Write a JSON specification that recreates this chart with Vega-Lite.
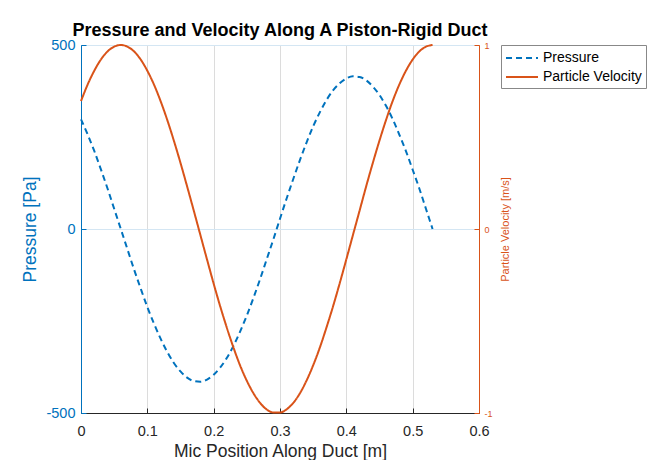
{
  "$schema": "https://vega.github.io/schema/vega-lite/v6.json",
  "width": 398,
  "height": 368,
  "autosize": "none",
  "padding": {"left": 81, "top": 45, "right": 172, "bottom": 47},
  "background": "white",
  "title": {
    "text": "Pressure and Velocity Along A Piston-Rigid Duct",
    "font": "Liberation Sans",
    "fontSize": 18,
    "fontWeight": "bold",
    "color": "#000000",
    "anchor": "middle",
    "frame": "group",
    "offset": -3
  },
  "config": {
    "view": {"stroke": "#262626", "strokeWidth": 1},
    "font": "Liberation Sans"
  },
  "data": {
    "values": [
      {"x": 0.00, "pressure": 298, "velocity": 0.695},
      {"x": 0.01, "pressure": 257, "velocity": 0.785},
      {"x": 0.02, "pressure": 212, "velocity": 0.860},
      {"x": 0.03, "pressure": 162, "velocity": 0.921},
      {"x": 0.04, "pressure": 110, "velocity": 0.965},
      {"x": 0.05, "pressure": 55, "velocity": 0.991},
      {"x": 0.06, "pressure": 0, "velocity": 1.000},
      {"x": 0.07, "pressure": -55, "velocity": 0.991},
      {"x": 0.08, "pressure": -110, "velocity": 0.965},
      {"x": 0.09, "pressure": -162, "velocity": 0.921},
      {"x": 0.10, "pressure": -212, "velocity": 0.860},
      {"x": 0.11, "pressure": -257, "velocity": 0.785},
      {"x": 0.12, "pressure": -298, "velocity": 0.695},
      {"x": 0.13, "pressure": -334, "velocity": 0.593},
      {"x": 0.14, "pressure": -364, "velocity": 0.480},
      {"x": 0.15, "pressure": -387, "velocity": 0.359},
      {"x": 0.16, "pressure": -404, "velocity": 0.231},
      {"x": 0.17, "pressure": -413, "velocity": 0.100},
      {"x": 0.18, "pressure": -415, "velocity": -0.033},
      {"x": 0.19, "pressure": -409, "velocity": -0.166},
      {"x": 0.20, "pressure": -396, "velocity": -0.297},
      {"x": 0.21, "pressure": -376, "velocity": -0.422},
      {"x": 0.22, "pressure": -350, "velocity": -0.538},
      {"x": 0.23, "pressure": -317, "velocity": -0.646},
      {"x": 0.24, "pressure": -278, "velocity": -0.743},
      {"x": 0.25, "pressure": -235, "velocity": -0.825},
      {"x": 0.26, "pressure": -187, "velocity": -0.893},
      {"x": 0.27, "pressure": -136, "velocity": -0.945},
      {"x": 0.28, "pressure": -82, "velocity": -0.981},
      {"x": 0.29, "pressure": -28, "velocity": -0.997},
      {"x": 0.30, "pressure": 28, "velocity": -0.997},
      {"x": 0.31, "pressure": 83, "velocity": -0.980},
      {"x": 0.32, "pressure": 136, "velocity": -0.945},
      {"x": 0.33, "pressure": 187, "velocity": -0.893},
      {"x": 0.34, "pressure": 235, "velocity": -0.824},
      {"x": 0.35, "pressure": 279, "velocity": -0.741},
      {"x": 0.36, "pressure": 317, "velocity": -0.645},
      {"x": 0.37, "pressure": 350, "velocity": -0.536},
      {"x": 0.38, "pressure": 377, "velocity": -0.420},
      {"x": 0.39, "pressure": 396, "velocity": -0.295},
      {"x": 0.40, "pressure": 409, "velocity": -0.165},
      {"x": 0.41, "pressure": 415, "velocity": -0.032},
      {"x": 0.42, "pressure": 413, "velocity": 0.100},
      {"x": 0.43, "pressure": 404, "velocity": 0.233},
      {"x": 0.44, "pressure": 387, "velocity": 0.360},
      {"x": 0.45, "pressure": 364, "velocity": 0.481},
      {"x": 0.46, "pressure": 334, "velocity": 0.594},
      {"x": 0.47, "pressure": 298, "velocity": 0.697},
      {"x": 0.48, "pressure": 256, "velocity": 0.786},
      {"x": 0.49, "pressure": 211, "velocity": 0.861},
      {"x": 0.50, "pressure": 161, "velocity": 0.921},
      {"x": 0.51, "pressure": 110, "velocity": 0.965},
      {"x": 0.52, "pressure": 55, "velocity": 0.991},
      {"x": 0.53, "pressure": 0, "velocity": 1.000}
    ]
  },
  "encoding": {
    "x": {
      "field": "x",
      "type": "quantitative",
      "scale": {"domain": [0, 0.6], "nice": false, "zero": false},
      "axis": {
        "values": [0, 0.1, 0.2, 0.3, 0.4, 0.5, 0.6],
        "format": "~g",
        "title": "Mic Position Along Duct [m]",
        "titleFontSize": 17.5,
        "titleFontWeight": "normal",
        "titleColor": "#262626",
        "titleY": 43,
        "titleBaseline": "alphabetic",
        "labelFontSize": 14.5,
        "labelColor": "#262626",
        "labelPadding": 16,
        "tickSize": -5,
        "tickColor": "#262626",
        "domainColor": "#262626",
        "grid": true,
        "gridColor": "#dcdcdc",
        "labelFlush": false
      }
    }
  },
  "layer": [
    {
      "mark": {"type": "line", "strokeWidth": 2, "interpolate": "monotone"},
      "encoding": {
        "y": {
          "field": "pressure",
          "type": "quantitative",
          "scale": {"domain": [-500, 500], "nice": false},
          "axis": {
            "orient": "left",
            "values": [-500, 0, 500],
            "labelExpr": "'' + datum.value",
            "title": "Pressure [Pa]",
            "titleFontSize": 17.5,
            "titleFontWeight": "normal",
            "titleColor": "#0072BD",
            "titleX": -51,
            "titleBaseline": "middle",
            "labelFontSize": 14.5,
            "labelColor": "#0072BD",
            "labelPadding": 11,
            "tickSize": -5,
            "tickColor": "#0072BD",
            "domainColor": "#0072BD",
            "grid": true,
            "gridColor": "#d4e6f3",
            "labelFlush": false
          }
        },
        "color": {
          "datum": "Pressure",
          "type": "nominal",
          "scale": {"domain": ["Pressure", "Particle Velocity"], "range": ["#0072BD", "#D95319"]},
          "legend": {
            "title": null,
            "orient": "none",
            "legendX": 420,
            "legendY": 0,
            "symbolType": "M-1,0L3,0",
            "symbolSize": 256,
            "symbolStrokeWidth": 2,
            "labelFontSize": 14,
            "labelColor": "#000000",
            "labelOffset": 20,
            "padding": 4,
            "rowPadding": 3,
            "strokeColor": "#888888",
            "fillColor": "white",
            "cornerRadius": 0
          }
        },
        "strokeDash": {
          "datum": "Pressure",
          "type": "nominal",
          "scale": {"domain": ["Pressure", "Particle Velocity"], "range": [[6, 4], [1, 0]]},
          "legend": null
        }
      }
    },
    {
      "mark": {"type": "line", "strokeWidth": 2, "interpolate": "monotone"},
      "encoding": {
        "y": {
          "field": "velocity",
          "type": "quantitative",
          "scale": {"domain": [-1, 1], "nice": false},
          "axis": {
            "orient": "right",
            "values": [-1, 0, 1],
            "labelExpr": "'' + datum.value",
            "title": "Particle Velocity [m/s]",
            "titleFontSize": 11,
            "titleFontWeight": "normal",
            "titleColor": "#D95319",
            "titleAngle": 270,
            "titleX": 26,
            "titleBaseline": "middle",
            "labelFontSize": 9,
            "labelColor": "#D95319",
            "labelPadding": 10,
            "tickSize": -5,
            "tickColor": "#D95319",
            "domainColor": "#D95319",
            "grid": false,
            "labelFlush": false
          }
        },
        "color": {"datum": "Particle Velocity", "type": "nominal"},
        "strokeDash": {"datum": "Particle Velocity", "type": "nominal"}
      }
    }
  ],
  "resolve": {"scale": {"y": "independent"}}
}
